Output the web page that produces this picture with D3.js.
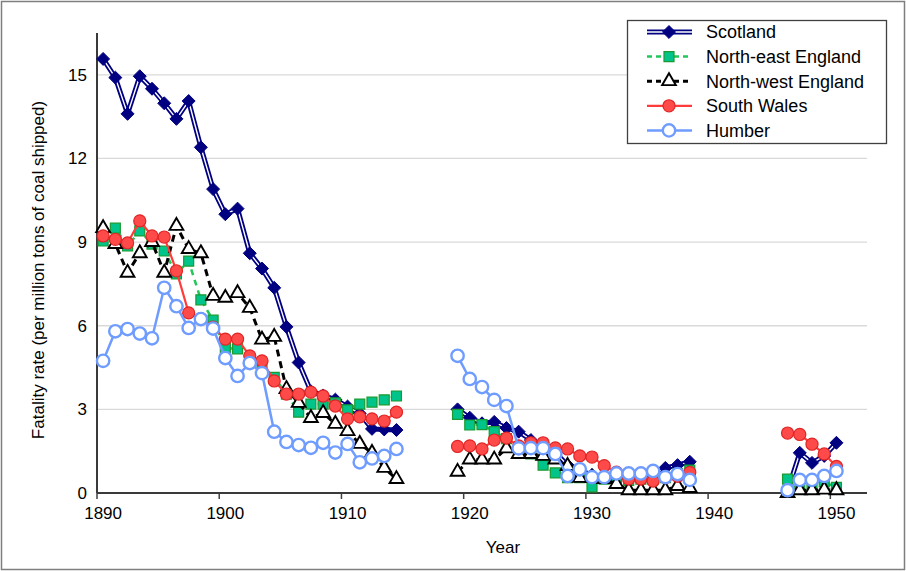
<!DOCTYPE html>
<html lang="en">
<head>
<meta charset="utf-8">
<title>Fatality rate</title>
<script src="https://d3js.org/d3.v7.min.js"></script>
<style>
  body { margin: 0; background: #fff; }
  text { font-family: "Liberation Sans", Arial, sans-serif; fill: #000; }
</style>
</head>
<body>
<div id="chart"></div>
<script>
// years with data (gaps = war years / missing)
var years = [1890,1891,1892,1893,1894,1895,1896,1897,1898,1899,1900,1901,1902,1903,1904,1905,1906,1907,1908,1909,1910,1911,1912,1913,1914,
             1919,1920,1921,1922,1923,1924,1925,1926,1927,1928,1929,1930,1931,1932,1933,1934,1935,1936,1937,1938,
             1946,1947,1948,1949,1950];

var scotland = [15.57,14.9,13.6,14.95,14.5,13.98,13.42,14.06,12.4,10.9,10.0,10.2,8.6,8.05,7.36,5.96,4.68,3.65,3.5,3.35,3.1,2.85,2.3,2.28,2.26,
                3.0,2.7,2.5,2.55,2.33,2.2,1.9,1.7,1.45,1.0,0.8,0.65,0.55,0.55,0.6,0.6,0.7,0.9,1.0,1.12,
                0.07,1.44,1.08,1.33,1.8];
var northEast = [9.04,9.5,8.86,9.4,8.93,8.68,7.86,8.32,6.93,6.2,5.2,5.17,4.8,4.55,4.15,3.55,2.9,3.19,3.19,3.23,2.98,3.19,3.26,3.34,3.48,
                 2.82,2.44,2.45,2.2,1.95,1.6,1.4,1.0,0.72,0.55,0.55,0.22,0.5,0.55,0.45,0.5,0.5,0.55,0.7,0.82,
                 0.5,0.3,0.25,0.4,0.2];
var northWest = [9.5,8.93,7.9,8.6,9.0,7.9,9.58,8.75,8.6,7.07,7.0,7.17,6.64,5.5,5.6,3.73,3.23,2.69,2.87,2.48,2.22,1.76,1.44,0.9,0.5,
                 0.76,1.2,1.2,1.2,1.6,1.4,1.4,1.33,1.2,0.97,0.54,0.54,0.5,0.32,0.1,0.1,0.1,0.1,0.25,0.18,
                 0.0,0.1,0.1,0.12,0.1];
var southWales = [9.22,9.1,8.97,9.76,9.22,9.18,7.97,6.46,6.25,5.95,5.52,5.52,4.92,4.74,4.02,3.55,3.55,3.62,3.48,3.12,2.66,2.73,2.66,2.58,2.9,
                  1.67,1.69,1.58,1.9,1.97,1.69,1.8,1.8,1.62,1.58,1.33,1.29,0.98,0.75,0.5,0.5,0.43,0.55,0.6,0.74,
                  2.15,2.1,1.75,1.4,0.95];
var humber = [4.74,5.8,5.88,5.72,5.55,7.36,6.7,5.92,6.24,5.9,4.84,4.2,4.66,4.3,2.2,1.83,1.72,1.62,1.8,1.45,1.76,1.1,1.24,1.33,1.58,
              4.92,4.09,3.8,3.34,3.12,1.6,1.61,1.61,1.4,0.61,0.85,0.57,0.57,0.7,0.7,0.7,0.79,0.57,0.68,0.47,
              0.1,0.47,0.47,0.61,0.79];

var seriesNames = ["Scotland", "North-east England", "North-west England", "South Wales", "Humber"];
var xTicks = [1890,1900,1910,1920,1930,1940,1950];
var yTicks = [0,3,6,9,12,15];

var width = 906, height = 571;
var plotLeft = 97, plotRight = 867, plotTop = 33, plotBottom = 493;

var svg = d3.select("#chart").append("svg")
    .attr("width", width)
    .attr("height", height);

svg.append("rect")
    .attr("x", 1.5).attr("y", 1.5)
    .attr("width", width - 3).attr("height", height - 3)
    .attr("fill", "#fff")
    .attr("stroke", "#7f7f7f")
    .attr("stroke-width", 1.5);

// category axis, one band per year
var x = d3.scaleBand()
    .domain(d3.range(1890, 1953))
    .range([plotLeft, plotRight])
    .padding(0);
var bw = x.bandwidth();
function cx(yr) { return x(yr) + bw / 2; }

var y = d3.scaleLinear()
    .domain([0, 16.5])
    .range([plotBottom, plotTop]);

// gridlines
svg.append("g")
    .selectAll("line")
    .data(yTicks.filter(function(d) { return d > 0; }))
    .enter().append("line")
    .attr("x1", plotLeft).attr("x2", plotRight)
    .attr("y1", function(d) { return y(d); })
    .attr("y2", function(d) { return y(d); })
    .attr("stroke", "#d9d9d9")
    .attr("stroke-width", 1.3);

// y labels
svg.append("g")
    .selectAll("text")
    .data(yTicks)
    .enter().append("text")
    .attr("x", plotLeft - 10)
    .attr("y", function(d) { return y(d); })
    .attr("dy", "0.35em")
    .attr("text-anchor", "end")
    .style("font-size", "17px")
    .text(function(d) { return d; });

// x ticks + labels
svg.append("g")
    .selectAll("line")
    .data(xTicks)
    .enter().append("line")
    .attr("x1", function(d) { return x(d); })
    .attr("x2", function(d) { return x(d); })
    .attr("y1", plotBottom).attr("y2", plotBottom + 6)
    .attr("stroke", "#404040")
    .attr("stroke-width", 1.5);

svg.append("g")
    .selectAll("text")
    .data(xTicks)
    .enter().append("text")
    .attr("x", function(d) { return cx(d); })
    .attr("y", plotBottom + 26)
    .attr("text-anchor", "middle")
    .style("font-size", "17px")
    .text(function(d) { return d; });

// axes lines
svg.append("line")
    .attr("x1", plotLeft).attr("x2", plotLeft)
    .attr("y1", plotTop).attr("y2", plotBottom)
    .attr("stroke", "#3a3a3a").attr("stroke-width", 2);
svg.append("line")
    .attr("x1", plotLeft).attr("x2", plotRight)
    .attr("y1", plotBottom).attr("y2", plotBottom)
    .attr("stroke", "#3a3a3a").attr("stroke-width", 2);

// axis titles
svg.append("text")
    .attr("x", 503)
    .attr("y", 553)
    .attr("text-anchor", "middle")
    .style("font-size", "17px")
    .text("Year");

svg.append("text")
    .attr("transform", "translate(44,270) rotate(-90)")
    .attr("text-anchor", "middle")
    .style("font-size", "17px")
    .text("Fatality rate (per million tons of coal shipped)");

// split series into runs of consecutive years
function segments(vals) {
    var segs = [], cur = [];
    years.forEach(function(yr, i) {
        if (i > 0 && yr - years[i - 1] > 1) { segs.push(cur); cur = []; }
        cur.push({ year: yr, v: vals[i] });
    });
    segs.push(cur);
    return segs;
}

var line = d3.line()
    .x(function(d) { return cx(d.year); })
    .y(function(d) { return y(d.v); });

// square rotated 45deg, so the diamond is as wide as it is tall
var squareDiamond = {
    draw: function(context, size) {
        var r = Math.sqrt(size / 2);
        context.moveTo(0, -r);
        context.lineTo(r, 0);
        context.lineTo(0, r);
        context.lineTo(-r, 0);
        context.closePath();
    }
};

var styles = [
    { data: scotland, lines: [{ stroke: "#000080", w: 5 }, { stroke: "#ffffff", w: 1.4 }], marker: squareDiamond, fill: "#000080", mstroke: "#000080", mw: 1, size: 84 },
    { data: northEast, lines: [{ stroke: "#21c75a", w: 2.5, dash: "6,5" }], marker: d3.symbolSquare, fill: "#00c48a", mstroke: "#1a9a30", mw: 1.2, size: 100 },
    { data: northWest, lines: [{ stroke: "#000000", w: 3, dash: "7,5" }], marker: d3.symbolTriangle, fill: "#ffffff", mstroke: "#000000", mw: 1.9, size: 82 },
    { data: southWales, lines: [{ stroke: "#ff3b3b", w: 2.2 }], marker: d3.symbolCircle, fill: "#ff4a4a", mstroke: "#e02525", mw: 1.2, size: 115 },
    { data: humber, lines: [{ stroke: "#6f9cff", w: 2.5 }], marker: d3.symbolCircle, fill: "#ffffff", mstroke: "#6f9cff", mw: 2.4, size: 120 }
];

styles.forEach(function(s) {
    var g = svg.append("g");
    var segs = segments(s.data);
    s.lines.forEach(function(l) {
        g.selectAll(null)
            .data(segs)
            .enter().append("path")
            .attr("d", line)
            .attr("fill", "none")
            .attr("stroke", l.stroke)
            .attr("stroke-width", l.w)
            .attr("stroke-dasharray", l.dash || null)
            .attr("stroke-linejoin", "round");
    });
    var sym = d3.symbol().type(s.marker).size(s.size);
    g.selectAll(null)
        .data(years.map(function(yr, i) { return { year: yr, v: s.data[i] }; }))
        .enter().append("path")
        .attr("d", sym)
        .attr("transform", function(d) { return "translate(" + cx(d.year) + "," + y(d.v) + ")"; })
        .attr("fill", s.fill)
        .attr("stroke", s.mstroke)
        .attr("stroke-width", s.mw);
});

// legend
var lg = svg.append("g");
lg.append("rect")
    .attr("x", 627.5).attr("y", 20.5)
    .attr("width", 259).attr("height", 123)
    .attr("fill", "#fff")
    .attr("stroke", "#404040")
    .attr("stroke-width", 1.3);

seriesNames.forEach(function(name, i) {
    var s = styles[i];
    var ly = 32 + i * 24.6;
    s.lines.forEach(function(l) {
        lg.append("line")
            .attr("x1", 647).attr("x2", 692)
            .attr("y1", ly).attr("y2", ly)
            .attr("stroke", l.stroke)
            .attr("stroke-width", l.w)
            .attr("stroke-dasharray", l.dash ? "5,4" : null);
    });
    lg.append("path")
        .attr("d", d3.symbol().type(s.marker).size(s.size)())
        .attr("transform", "translate(669," + ly + ")")
        .attr("fill", s.fill)
        .attr("stroke", s.mstroke)
        .attr("stroke-width", s.mw);
    lg.append("text")
        .attr("x", 706)
        .attr("y", ly)
        .attr("dy", "0.35em")
        .style("font-size", "18px")
        .text(name);
});
</script>
</body>
</html>
